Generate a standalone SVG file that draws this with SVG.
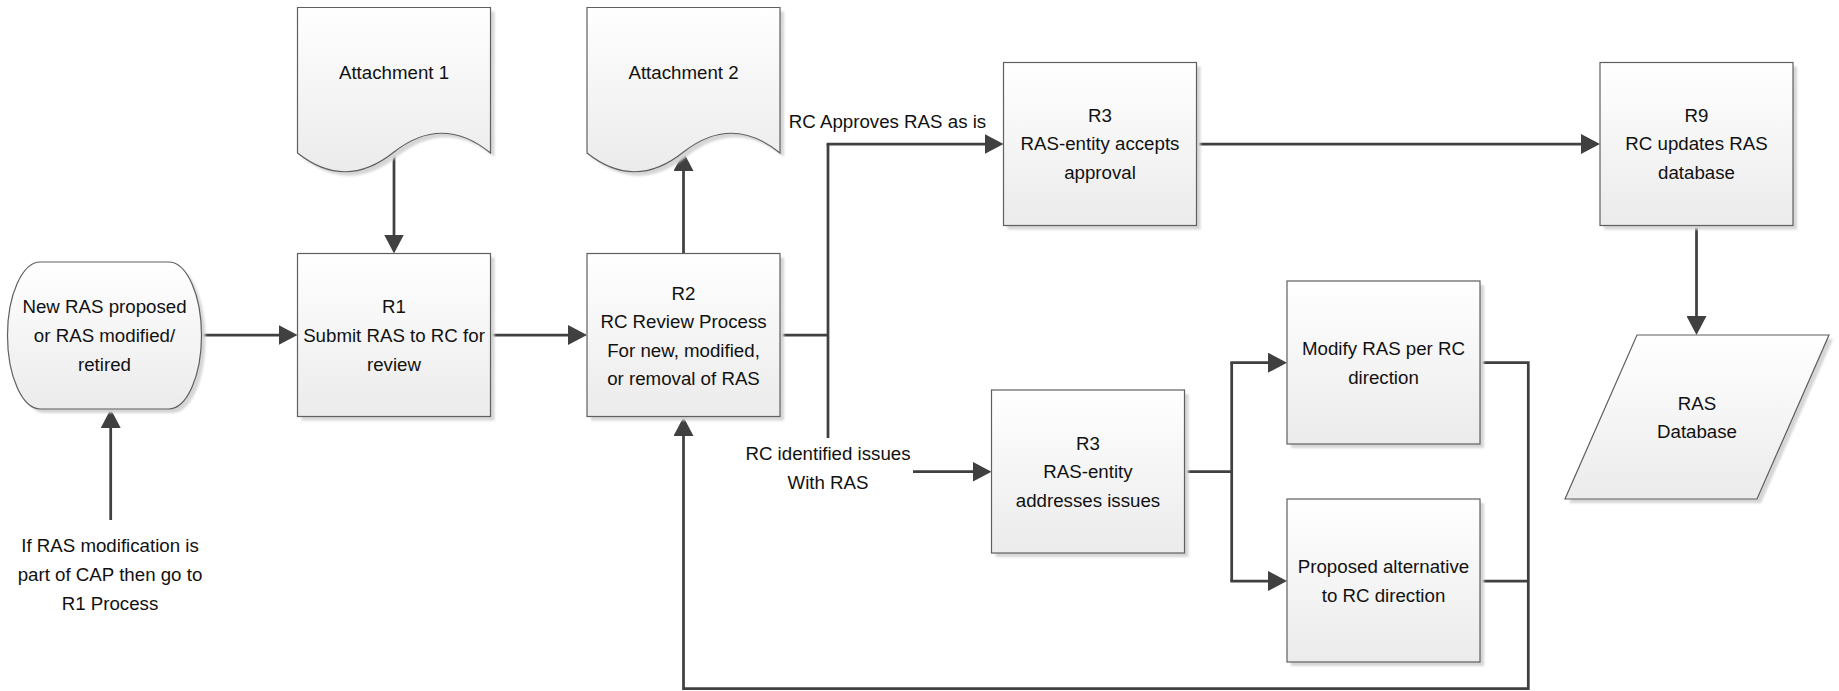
<svg xmlns="http://www.w3.org/2000/svg" width="1839" height="691" viewBox="0 0 1839 691">
  <style>
    .shape { fill: url(#g); stroke: #5f5f5f; stroke-width: 1.2; }
    .shadow { fill: #d6d6d6; filter: url(#blur); }
    .t { font-family: "Liberation Sans", Arial, sans-serif; font-size: 18.7px; fill: #111; text-anchor: middle; }
    .c { fill: none; stroke: #404040; stroke-width: 2.75; }
    .a { marker-end: url(#arrow); }
  </style>
  <defs>
    <linearGradient id="g" x1="0" y1="0" x2="0" y2="1">
      <stop offset="0" stop-color="#ffffff"/>
      <stop offset="1" stop-color="#ebebeb"/>
    </linearGradient>
    <filter id="blur" x="-10%" y="-10%" width="120%" height="120%">
      <feGaussianBlur stdDeviation="1.2"/>
    </filter>
    <marker id="arrow" markerUnits="userSpaceOnUse" viewBox="0 0 20 20" markerWidth="20" markerHeight="20" refX="11" refY="10" orient="auto">
      <path d="M0,0 L19,10 L0,20 Z" fill="#404040"/>
    </marker>
  </defs>
  <rect width="1839" height="691" fill="#ffffff"/>

  <g id="connectors">
    <path class="c a" d="M201.5,335 H289.5"/>
    <path class="c a" d="M394,152 V245.5"/>
    <path class="c a" d="M490.5,335 H579"/>
    <path class="c a" d="M683.5,253.5 V160"/>
    <path class="c" d="M780,335 H828"/>
    <path class="c" d="M828,144 V438"/>
    <path class="c a" d="M826.6,144 H995.5"/>
    <path class="c a" d="M913,471.7 H983.5"/>
    <path class="c a" d="M1196.5,144 H1592"/>
    <path class="c a" d="M1696.5,225.5 V327"/>
    <path class="c" d="M1184.5,471.7 H1231.7"/>
    <path class="c" d="M1231.7,362.7 V581"/>
    <path class="c a" d="M1230.3,362.7 H1279"/>
    <path class="c a" d="M1230.3,581 H1279"/>
    <path class="c a" d="M1480,362.7 H1528.3 V688.5 H683.5 V425"/>
    <path class="c" d="M1480,581 H1528.3"/>
    <path class="c a" d="M110.7,520 V417"/>
  </g>

  <g id="start">
    <rect class="shadow" x="11.5" y="266" width="194" height="147" rx="33" ry="73.5"/>
    <rect class="shape" x="7.5" y="262" width="194" height="147" rx="33" ry="73.5"/>
    <text class="t" x="104.5" y="313">New RAS proposed</text>
    <text class="t" x="104.5" y="342">or RAS modified/</text>
    <text class="t" x="104.5" y="371">retired</text>
  </g>

  <g id="attachment1">
    <path class="shadow" transform="translate(4,4)" d="M297.5,7.5 H490.5 V153 Q442.5,114 394,152 Q345.5,191 297.5,153 Z"/>
    <path class="shape" d="M297.5,7.5 H490.5 V153 Q442.5,114 394,152 Q345.5,191 297.5,153 Z"/>
    <text class="t" x="394" y="79">Attachment 1</text>
  </g>

  <g id="attachment2">
    <path class="shadow" transform="translate(4,4)" d="M587,7.5 H780 V153 Q732,114 683.5,152 Q635,191 587,153 Z"/>
    <path class="shape" d="M587,7.5 H780 V153 Q732,114 683.5,152 Q635,191 587,153 Z"/>
    <text class="t" x="683.5" y="79">Attachment 2</text>
  </g>

  <g id="r1">
    <rect class="shadow" x="301.5" y="257.5" width="193" height="163"/>
    <rect class="shape" x="297.5" y="253.5" width="193" height="163"/>
    <text class="t" x="394" y="313">R1</text>
    <text class="t" x="394" y="342">Submit RAS to RC for</text>
    <text class="t" x="394" y="371">review</text>
  </g>

  <g id="r2">
    <rect class="shadow" x="591" y="257.5" width="193" height="163"/>
    <rect class="shape" x="587" y="253.5" width="193" height="163"/>
    <text class="t" x="683.5" y="299.5">R2</text>
    <text class="t" x="683.5" y="328">RC Review Process</text>
    <text class="t" x="683.5" y="356.5">For new, modified,</text>
    <text class="t" x="683.5" y="385">or removal of RAS</text>
  </g>

  <g id="r3-accept">
    <rect class="shadow" x="1007.5" y="66.5" width="193" height="163"/>
    <rect class="shape" x="1003.5" y="62.5" width="193" height="163"/>
    <text class="t" x="1100" y="121.7">R3</text>
    <text class="t" x="1100" y="150.3">RAS-entity accepts</text>
    <text class="t" x="1100" y="179">approval</text>
  </g>

  <g id="r9">
    <rect class="shadow" x="1604" y="66.5" width="193" height="163"/>
    <rect class="shape" x="1600" y="62.5" width="193" height="163"/>
    <text class="t" x="1696.5" y="121.7">R9</text>
    <text class="t" x="1696.5" y="150.3">RC updates RAS</text>
    <text class="t" x="1696.5" y="179">database</text>
  </g>

  <g id="ras-database">
    <path class="shadow" transform="translate(4,4)" d="M1637,335 H1829 L1757,499 H1565 Z"/>
    <path class="shape" d="M1637,335 H1829 L1757,499 H1565 Z"/>
    <text class="t" x="1697" y="409.5">RAS</text>
    <text class="t" x="1697" y="438">Database</text>
  </g>

  <g id="r3-address">
    <rect class="shadow" x="995.5" y="394" width="193" height="163"/>
    <rect class="shape" x="991.5" y="390" width="193" height="163"/>
    <text class="t" x="1088" y="449.8">R3</text>
    <text class="t" x="1088" y="478.4">RAS-entity</text>
    <text class="t" x="1088" y="507">addresses issues</text>
  </g>

  <g id="modify">
    <rect class="shadow" x="1291" y="285" width="193" height="163"/>
    <rect class="shape" x="1287" y="281" width="193" height="163"/>
    <text class="t" x="1383.5" y="355">Modify RAS per RC</text>
    <text class="t" x="1383.5" y="383.6">direction</text>
  </g>

  <g id="proposed">
    <rect class="shadow" x="1291" y="503" width="193" height="163"/>
    <rect class="shape" x="1287" y="499" width="193" height="163"/>
    <text class="t" x="1383.5" y="573">Proposed alternative</text>
    <text class="t" x="1383.5" y="601.6">to RC direction</text>
  </g>

  <g id="labels">
    <text class="t" x="887.5" y="128">RC Approves RAS as is</text>
    <text class="t" x="828" y="460">RC identified issues</text>
    <text class="t" x="828" y="489.3">With RAS</text>
    <text class="t" x="110" y="551.7">If RAS modification is</text>
    <text class="t" x="110" y="581">part of CAP then go to</text>
    <text class="t" x="110" y="610">R1 Process</text>
  </g>
</svg>
